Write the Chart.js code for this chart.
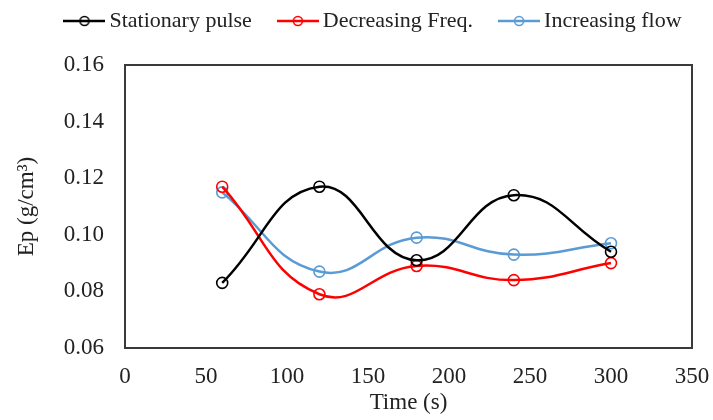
<!DOCTYPE html>
<html>
<head>
<meta charset="utf-8">
<script src="https://cdn.jsdelivr.net/npm/chart.js@4"></script>
<style>
  html, body { margin: 0; padding: 0; background: #fff; }
</style>
</head>
<body>
<canvas id="epChart" width="713" height="420"></canvas>
<script>
// 測定時間 (s)
const times = [60, 120, 180, 240, 300];

// 各条件の Ep (g/cm³)
const stationaryPulse = [0.083, 0.117, 0.091, 0.114, 0.094];
const decreasingFreq = [0.117, 0.079, 0.089, 0.084, 0.090];
const increasingFlow = [0.115, 0.087, 0.099, 0.093, 0.097];

const seriesNames = ['Stationary pulse', 'Decreasing Freq.', 'Increasing flow'];
const seriesColors = ['#000000', '#ff0000', '#5b9bd5'];
const seriesValues = [stationaryPulse, decreasingFreq, increasingFlow];

// 軸の目盛り
const xTicks = { min: 0, max: 350, step: 50 };
const yTicks = { min: 0.06, max: 0.16, step: 0.02 };

Chart.defaults.font.family = "'Liberation Serif', 'Times New Roman', serif";
Chart.defaults.font.size = 23;
Chart.defaults.color = '#222';

// 凡例用のアイコン（線＋白抜き丸）
function makeLegendIcon(color) {
    const c = document.createElement('canvas');
    c.width = 42;
    c.height = 14;
    const g = c.getContext('2d');
    g.strokeStyle = color;
    g.lineWidth = 2.5;
    g.beginPath();
    g.moveTo(0, 7);
    g.lineTo(42, 7);
    g.stroke();
    g.lineWidth = 1.6;
    g.beginPath();
    g.arc(21, 7, 4.5, 0, Math.PI * 2);
    g.stroke();
    return c;
}
const legendIcons = seriesColors.map(makeLegendIcon);

const datasets = seriesNames.map((name, i) => ({
    label: name,
    data: times.map((t, j) => ({ x: t, y: seriesValues[i][j] })),
    borderColor: seriesColors[i],
    backgroundColor: 'transparent',
    borderWidth: 2.5,
    pointRadius: 5.5,
    pointBorderWidth: 1.6,
    pointBorderColor: seriesColors[i],
    pointBackgroundColor: 'transparent',
    tension: 0.45,
    showLine: true
}));

// プロット領域の枠線
const frame = {
    id: 'frame',
    afterDatasetsDraw(chart) {
        const a = chart.chartArea;
        const ctx = chart.ctx;
        ctx.save();
        ctx.strokeStyle = '#3a3a3a';
        ctx.lineWidth = 2;
        ctx.strokeRect(a.left, a.top, a.right - a.left, a.bottom - a.top);
        ctx.restore();
    }
};

// 凡例の高さを固定し、位置を少しずらす
const legendPlacement = {
    id: 'legendPlacement',
    beforeInit(chart) {
        const fit = chart.legend.fit;
        chart.legend.fit = function () {
            fit.bind(chart.legend)();
            this.height = 65;
        };
    },
    afterLayout(chart) {
        const lg = chart.legend;
        lg.left += 30;
        lg.right += 30;
        lg.top -= 22;
        lg.bottom -= 22;
    }
};

new Chart(document.getElementById('epChart'), {
    type: 'scatter',
    data: { datasets: datasets },
    options: {
        responsive: false,
        animation: false,
        layout: { padding: { left: 0, right: 21, top: 0, bottom: 0 } },
        plugins: {
            tooltip: { enabled: false },
            legend: {
                position: 'top',
                labels: {
                    usePointStyle: true,
                    pointStyleWidth: 28,
                    boxHeight: 14,
                    padding: 32,
                    color: '#222',
                    font: { size: 22 },
                    generateLabels(chart) {
                        const items = Chart.defaults.plugins.legend.labels.generateLabels(chart);
                        items.forEach((item, i) => { item.pointStyle = legendIcons[i]; });
                        return items;
                    }
                }
            }
        },
        scales: {
            x: {
                type: 'linear',
                min: xTicks.min,
                max: xTicks.max,
                grid: { display: false, drawTicks: false },
                border: { display: false },
                ticks: { stepSize: xTicks.step, padding: 15 },
                title: { display: true, text: 'Time (s)', padding: { top: 0, bottom: 3 } },
                afterFit(scale) {
                    scale.height = 72;
                    scale.paddingLeft = 0;
                    scale.paddingRight = 0;
                }
            },
            y: {
                min: yTicks.min,
                max: yTicks.max,
                grid: { display: false, drawTicks: false },
                border: { display: false },
                ticks: {
                    stepSize: yTicks.step,
                    padding: 21,
                    callback: v => v.toFixed(2)
                },
                title: { display: true, text: 'Ep (g/cm³)', padding: { top: 13, bottom: 0 } },
                afterFit(scale) {
                    scale.width = 125;
                    scale.paddingTop = 0;
                    scale.paddingBottom = 0;
                }
            }
        }
    },
    plugins: [frame, legendPlacement]
});
</script>
</body>
</html>
